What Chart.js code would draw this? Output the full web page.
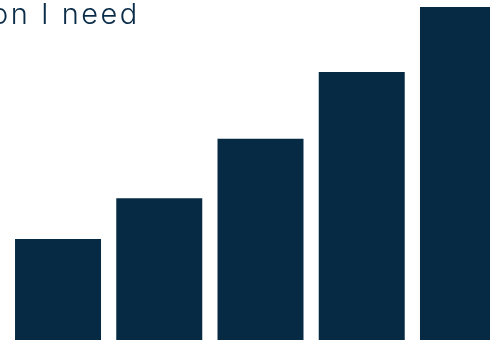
<!DOCTYPE html>
<html>
<head>
<meta charset="utf-8">
<script src="https://cdn.jsdelivr.net/npm/chart.js@4/dist/chart.umd.min.js"></script>
<style>
  html, body { margin: 0; padding: 0; background: #ffffff; }
  #wrap { position: relative; width: 490px; height: 340px; overflow: hidden; background: #ffffff; }
  #c { position: absolute; left: 0; top: 0; }
  #title { position: absolute; left: -9px; top: -1px; font-family: Inter, "Open Sans", sans-serif; font-weight: 300;
           font-size: 29px; line-height: 29px; letter-spacing: 2.5px; color: #0b2c48; white-space: nowrap; z-index: 2; }
</style>
</head>
<body>
<div id="wrap">
  <canvas id="c" width="520" height="340"></canvas>
  <div id="title">on I need</div>
</div>
<script>
const categories = ["1", "2", "3", "4", "5"];
const values = [30.3, 42.6, 60.4, 80.5, 100];
const yMax = 102.1;
const barColor = "#072a44";

new Chart(document.getElementById("c"), {
  type: "bar",
  data: {
    labels: categories,
    datasets: [{
      data: values,
      backgroundColor: barColor,
      borderWidth: 0,
      barPercentage: 1,
      categoryPercentage: 0.8494
    }]
  },
  options: {
    responsive: false,
    animation: false,
    layout: { padding: { left: 7.4, right: 6.4, top: 0, bottom: 0 } },
    plugins: { legend: { display: false }, tooltip: { enabled: false }, title: { display: false } },
    scales: {
      x: { display: false },
      y: { display: false, min: 0, max: yMax }
    }
  }
});
</script>
</body>
</html>
